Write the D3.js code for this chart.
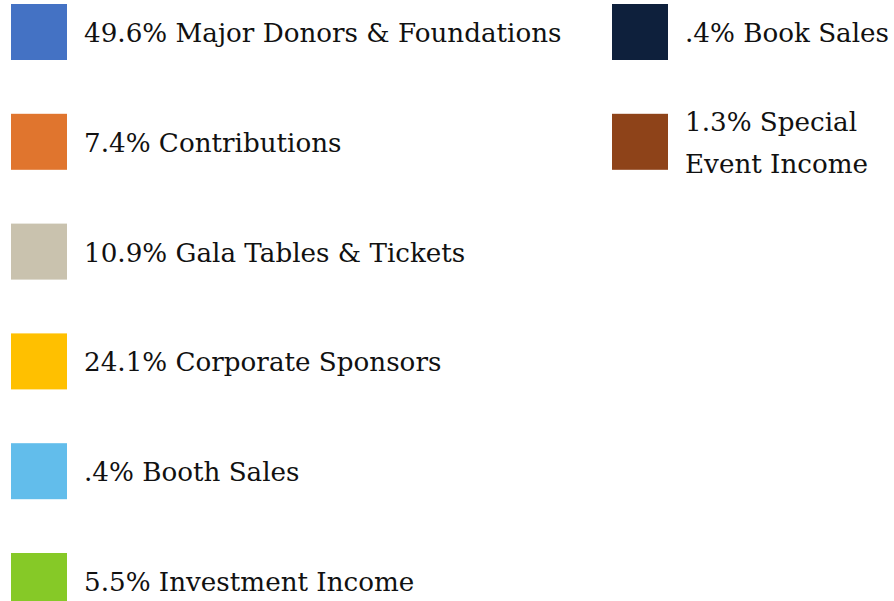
<!DOCTYPE html>
<html>
<head>
<meta charset="utf-8">
<script src="https://cdn.jsdelivr.net/npm/d3@7"></script>
<style>
  body { margin: 0; background: #fff; }
  text { font-family: "DejaVu Serif", serif; fill: #111; }
</style>
</head>
<body>
<svg></svg>
<script>
var width = 894;
var height = 601;

// legend entries, left column then right column
var labels = [
    "49.6% Major Donors & Foundations",
    "7.4% Contributions",
    "10.9% Gala Tables & Tickets",
    "24.1% Corporate Sponsors",
    ".4% Booth Sales",
    "5.5% Investment Income",
    ".4% Book Sales",
    "1.3% Special|Event Income"
];
var colors = [
    "#4472c4", "#e0752e", "#c9c2ae", "#ffc000",
    "#62bdeb", "#86c927", "#0e203c", "#8e4319"
];
var columns = [0, 0, 0, 0, 0, 0, 1, 1];
var rows = [0, 1, 2, 3, 4, 5, 0, 1];

var items = labels.map((l, i) => ({ label: l, color: colors[i], col: columns[i], row: rows[i] }));

var svg = d3.select("svg")
    .attr("width", width)
    .attr("height", height);

var sq = 56;

var y = d3.scalePoint()
    .domain(d3.range(6))
    .range([4, 553]);

var x = d3.scaleOrdinal()
    .domain([0, 1])
    .range([11, 612]);

var entry = svg.selectAll(".entry")
    .data(items)
    .enter()
    .append("g")
        .classed("entry", true)
        .attr("transform", d => `translate(${x(d.col)}, ${y(d.row)})`);

entry.append("rect")
    .attr("width", sq)
    .attr("height", sq)
    .attr("fill", d => d.color);

entry.append("text")
    .attr("y", sq / 2)
    .style("font-size", "26.2px")
    .each(function(d){
        var lines = d.label.split("|");
        var t = d3.select(this);
        lines.forEach((line, i) => {
            t.append("tspan")
                .attr("x", 73)
                .attr("dy", i === 0 ? (10 - (lines.length - 1) * 21) : 42)
                .text(line);
        });
    });
</script>
</body>
</html>
